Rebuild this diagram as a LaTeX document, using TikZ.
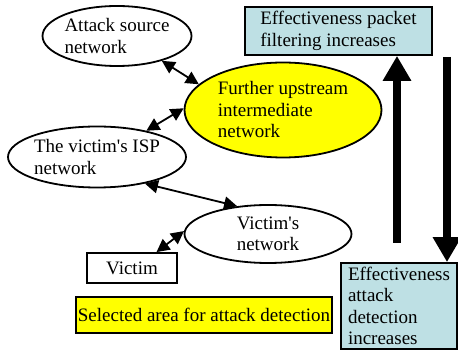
\documentclass[tikz,border=0pt]{standalone}
\usepackage{fontspec}
\setmainfont{Liberation Serif}
\usetikzlibrary{shapes.geometric,arrows.meta}
\definecolor{boxblue}{RGB}{190,224,228}
\definecolor{hiyellow}{RGB}{255,255,0}
\tikzset{
  txt/.style={font=\fontsize{19}{21.5}\selectfont},
  net/.style={ellipse, draw, line width=1.8pt, inner sep=0pt, txt, align=left},
  plainbox/.style={rectangle, draw, line width=1.8pt, txt},
  link/.style={line width=1.8pt, {Triangle[length=13pt,width=13pt]}-{Triangle[length=13pt,width=13pt]}},
  trend/.style={line width=8pt, -{Triangle[length=25pt,width=27pt]}},
}
\begin{document}
\begin{tikzpicture}[x=1pt,y=-1pt]
\useasboundingbox (0,0) rectangle (458,352);

% network ellipses
\node[net, minimum width=149, minimum height=60] (src) at (117,36) {Attack source\\network};
\node[net, fill=hiyellow, minimum width=197, minimum height=95] (up) at (283,110) {Further upstream\\intermediate\\network};
\node[net, minimum width=176, minimum height=61] (isp) at (97,157) {The victim\textquotesingle s ISP\\network};
\node[net, minimum width=167, minimum height=58] (vn) at (268,234) {Victim\textquotesingle s\\network};

% victim host and legend
\node[plainbox, minimum width=90, minimum height=30, inner sep=0pt] (victim) at (132,268) {Victim};
\node[plainbox, fill=hiyellow, minimum width=256, minimum height=36, inner xsep=1pt] (area) at (204,315) {Selected area for attack detection};

% effectiveness boxes
\node[plainbox, fill=boxblue, minimum width=187, minimum height=48, align=left, inner sep=0pt] (filt) at (338.5,31) {Effectiveness packet\\filtering increases};
\node[plainbox, fill=boxblue, minimum width=116, minimum height=86, text width=102, inner xsep=7pt, inner ysep=0pt, align=left] (detect) at (399,306) {Effectiveness\\attack\\detection\\increases};

% links between networks
\draw[link] (src.-29) -- (up.163);
\draw[link] (isp.28) -- (up.179);
\draw[link] (isp.-29) -- (vn.138);
\draw[link] (victim.33) -- (vn.178);

% trend arrows
\coordinate (upfoot) at (397,243);
\coordinate (downhead) at (447,57);
\draw[trend] (upfoot) -- (upfoot |- filt.south);
\draw[trend] (downhead) -- (downhead |- detect.north);
\end{tikzpicture}
\end{document}
